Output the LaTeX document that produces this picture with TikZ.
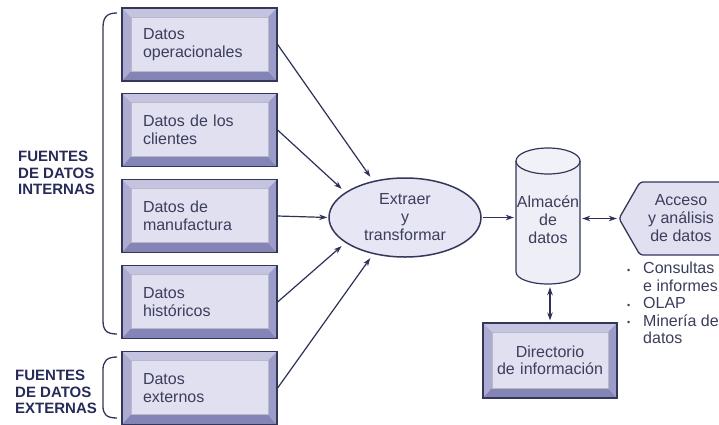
\documentclass[tikz,border=0pt]{standalone}
\usepackage{fontspec}
\setmainfont{Liberation Sans}
\usetikzlibrary{shapes.geometric,arrows.meta}
\definecolor{outl}{HTML}{34375A}
\definecolor{face}{HTML}{E0E0F0}
\definecolor{bvtop}{HTML}{C4C4E0}
\definecolor{bvleft}{HTML}{ACACD2}
\definecolor{bvbot}{HTML}{8484B6}
\definecolor{bvright}{HTML}{9C9CC8}
\definecolor{txt}{HTML}{3B3E5C}
\definecolor{lbl}{HTML}{262B58}
\definecolor{arr}{HTML}{2C3155}
\definecolor{ellfill}{HTML}{E6E6F4}
\definecolor{cylfill}{HTML}{EEEEF6}
\newcommand\myboxfont{\fontsize{16}{17.5}\selectfont}
\newcommand\mylblfont{\fontsize{15}{16.8}\selectfont\bfseries}
\newcommand\mybul{\makebox[16pt][l]{\raisebox{0.5pt}{\fontsize{9}{9}\selectfont •}}}
\tikzset{
  bevelpic/.style={path picture={
    \path (path picture bounding box.north west) coordinate (pnw)
          (path picture bounding box.north east) coordinate (pne)
          (path picture bounding box.south west) coordinate (psw)
          (path picture bounding box.south east) coordinate (pse);
    \fill[bvtop] (pnw) -- (pne) -- ([xshift=-9pt,yshift=-9pt]pne) -- ([xshift=9pt,yshift=-9pt]pnw) -- cycle;
    \fill[bvleft] (pnw) -- ([xshift=9pt,yshift=-9pt]pnw) -- ([xshift=9pt,yshift=10pt]psw) -- (psw) -- cycle;
    \fill[bvbot] (psw) -- ([xshift=9pt,yshift=10pt]psw) -- ([xshift=-9pt,yshift=10pt]pse) -- (pse) -- cycle;
    \fill[bvright] (pse) -- ([xshift=-9pt,yshift=10pt]pse) -- ([xshift=-9pt,yshift=-9pt]pne) -- (pne) -- cycle;
    \draw[outl!35, line width=0.4pt] ([xshift=9pt,yshift=-9pt]pnw) rectangle ([xshift=-9pt,yshift=10pt]pse);
  }},
  srcbox/.style={draw=outl, line width=1.2pt, fill=face, bevelpic,
    inner xsep=21pt, inner ysep=0pt, text width=113pt, minimum height=73pt,
    align=left, font=\myboxfont, text=txt},
  dirbox/.style={draw=outl, line width=1.2pt, fill=face, bevelpic,
    inner sep=0pt, text width=134pt, minimum height=75pt,
    align=center, font=\myboxfont, text=txt},
  flow/.style={draw=arr, line width=1.2pt, -{Stealth[length=8pt,width=5.5pt]}},
  dflow/.style={draw=arr, line width=1.2pt, {Stealth[length=8pt,width=5.5pt]}-{Stealth[length=8pt,width=5.5pt]}},
  brace/.style={draw=outl, line width=1.3pt},
  lbltext/.style={font=\mylblfont, text=lbl, align=left, inner sep=0pt, anchor=west},
  plaintext/.style={font=\myboxfont, text=txt, align=center, inner sep=0pt}
}
\begin{document}
\begin{tikzpicture}[x=1pt,y=-1pt]
\useasboundingbox (0,0) rectangle (719,424);
\clip (0,0) rectangle (719,424);
\fill[white] (0,0) rectangle (719,424);

% source boxes
\node[srcbox] (b1) at (199.5,44.5) {Datos\\operacionales};
\node[srcbox] (b2) at (199.5,130) {Datos de los\\clientes};
\node[srcbox] (b3) at (199.5,216) {Datos de\\manufactura};
\node[srcbox] (b4) at (199.5,302) {Datos\\hist\'oricos};
\node[srcbox] (b5) at (199.5,388) {Datos\\externos};

% braces
\draw[brace] (117,13) .. controls (106,13) and (103,18) .. (103,28) -- (103,320)
  .. controls (103,330) and (106,334) .. (117,334);
\draw[brace] (117,357) .. controls (106,357) and (103,362) .. (103,370) -- (103,406)
  .. controls (103,414) and (106,418) .. (117,418);

% labels
\node[lbltext] (lint) at (18,173) {FUENTES\\DE DATOS\\INTERNAS};
\node[lbltext] (lext) at (15,392) {FUENTES\\DE DATOS\\EXTERNAS};

% ellipse
\node[ellipse, draw=outl, line width=1.5pt, fill=ellfill, minimum width=152pt,
  minimum height=79pt, inner sep=0pt, font=\myboxfont, text=txt, align=center,
  execute at begin node=\setlength{\baselineskip}{18pt}]
  (ell) at (405,217.5) {Extraer\\y\\transformar};

% cylinder
\fill[cylfill] (516,161) -- (516,272) arc[start angle=180,end angle=360,x radius=32pt,y radius=12pt]
  -- (580,161) -- cycle;
\fill[cylfill!80!white] (548,161) ellipse[x radius=32pt, y radius=13pt];
\draw[outl, line width=1.2pt] (516,161) -- (516,272) arc[start angle=180,end angle=360,x radius=32pt,y radius=12pt]
  -- (580,161);
\draw[outl, line width=1.2pt] (548,161) ellipse[x radius=32pt, y radius=13pt];
\node[minimum width=64pt, minimum height=136pt, inner sep=0pt] (cyl) at (548,216) {};
\node[plaintext, execute at begin node=\setlength{\baselineskip}{18pt}] (cyltxt) at (548,220) {Almac\'en\\de\\datos};

% access shape
\draw[outl, line width=1.3pt, fill=face, rounded corners=3pt]
  (619,218.5) -- (640,182) -- (730,182) -- (730,255) -- (640,255) -- cycle;
\node[inner sep=0pt, minimum width=100pt, minimum height=73pt] (acc) at (669,218.5) {};
\node[plaintext, execute at begin node=\setlength{\baselineskip}{18pt}] (acctxt) at (681,218) {Acceso\\y an\'alisis\\de datos};

% bullet list
\node[font=\myboxfont, text=txt, align=left, inner sep=0pt, anchor=north west] (list) at (627,262)
  {\mybul Consultas\\\hspace*{16pt}e informes\\\mybul OLAP\\\mybul Miner\'ia de\\\hspace*{16pt}datos};

% directory box
\node[dirbox] (dir) at (550,360.5) {Directorio\\de informaci\'on};

% connectors
\draw[flow, shorten >=5pt] (b1.east) -- (ell.131);
\draw[flow, shorten >=5pt] (b2.east) -- (ell.157);
\draw[flow, shorten >=1pt] (b3.east) -- (ell.west);
\draw[flow, shorten >=5pt] (b4.east) -- (ell.203);
\draw[flow, shorten >=5pt] (b5.east) -- (ell.229);
\draw[flow, shorten <=1pt, shorten >=2pt] (ell.east) -- (ell.east -| cyl.west);
\draw[dflow, shorten <=2pt, shorten >=2pt] (cyl.east |- acc.west) -- (acc.west);
\draw[dflow, shorten <=3pt, shorten >=2pt] (cyl.south -| dir.north) -- (dir.north);
\end{tikzpicture}
\end{document}
